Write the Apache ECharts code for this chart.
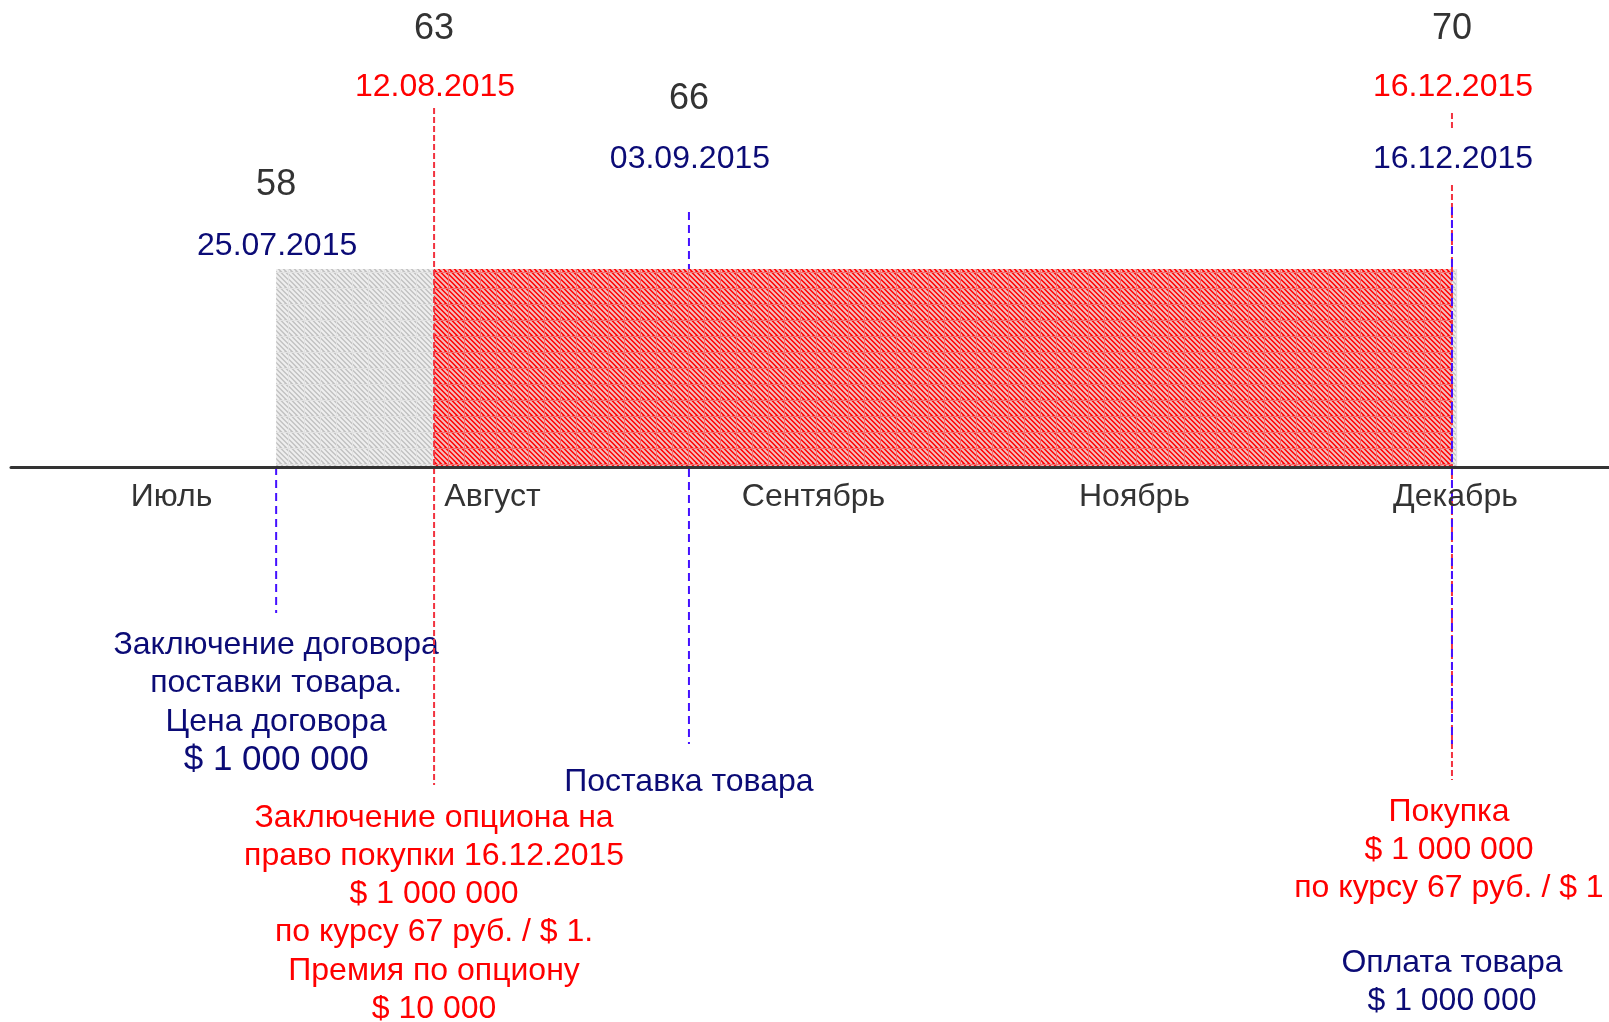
<!DOCTYPE html>
<html><head><meta charset="utf-8">
<script src="https://cdn.jsdelivr.net/npm/echarts@6/dist/echarts.min.js"></script>
<style>html,body{margin:0;padding:0;background:#fff}#c{width:1609px;height:1022px}</style>
</head><body><div id="c"></div>
<script>
// ---------- data ----------
const months = ['Июль', 'Август', 'Сентябрь', 'Ноябрь', 'Декабрь'];
const eventDates = ['25.07.2015', '12.08.2015', '03.09.2015', '16.12.2015'];
const eventRates = [58, 63, 66, 70];
const eventPos = [0.826, 1.318, 2.112, 4.489];      // position on the month scale
const contractPeriod = [0.826, 4.505];              // gray band
const optionPeriod = [1.318, 4.489];                // red band
const barHeight = 1;
const descContract = ['Заключение договора', 'поставки товара.', 'Цена договора', '$ 1 000 000'];
const descOption = ['Заключение опциона на', 'право покупки 16.12.2015', '$ 1 000 000', 'по курсу 67 руб. / $ 1.', 'Премия по опциону', '$ 10 000'];
const descDelivery = ['Поставка товара'];
const descPurchase = ['Покупка', '$ 1 000 000', 'по курсу 67 руб. / $ 1'];
const descPayment = ['Оплата товара', '$ 1 000 000'];

// ---------- styles ----------
const FONT = '"Liberation Sans", Arial, sans-serif';
const NAVY = '#0b0b76', RED = '#ff0000', DARK = '#333333';
const BLUE_LINE = '#4411ff', RED_LINE = '#f2333f';

function makeTile(base, stripe, seam) {
  const c = document.createElement('canvas');
  c.width = 16; c.height = 16;
  const g = c.getContext('2d');
  g.fillStyle = base; g.fillRect(0, 0, 16, 16);
  g.strokeStyle = stripe; g.lineWidth = 2;
  for (let k = -4; k < 8; k++) {
    g.beginPath(); g.moveTo(k * 5 + 1, 0); g.lineTo(k * 5 + 17, 16); g.stroke();
  }
  g.fillStyle = seam;
  g.fillRect(0, 0, 1, 16); g.fillRect(0, 0, 16, 1);
  return c;
}
const grayTile = makeTile('#c2c2c2', '#efefef', '#e2e2e2');
const redTile = makeTile('#ff0000', '#f3bdbd', '#f07070');

// layout of each event (pixels)
const layout = [
  { num: 185, dates: [[246, NAVY]], lines: [[BLUE_LINE, 467, 613]],
    blocks: [{ lines: descContract, y: 645, step: 38.5, color: NAVY, sizes: [32, 32, 32, 35] }] },
  { num: 29, dates: [[87, RED]], lines: [[RED_LINE, 108, 785]],
    blocks: [{ lines: descOption, y: 818, step: 38.2, color: RED }] },
  { num: 99, dates: [[159, NAVY]], lines: [[BLUE_LINE, 212, 269], [BLUE_LINE, 469, 744]],
    blocks: [{ lines: descDelivery, y: 782, step: 38, color: NAVY }] },
  { num: 29, dates: [[87, RED], [159, NAVY]], lines: [[RED_LINE, 113, 128], [RED_LINE, 185, 780], [BLUE_LINE, 207, 744]],
    blocks: [{ lines: descPurchase, y: 812, step: 38, color: RED, dx: -3 },
             { lines: descPayment, y: 963, step: 38, color: NAVY }] }
];

function txt(text, x, y, color, size) {
  return { type: 'text', style: { text: text, x: x, y: y, fill: color, fontSize: size, fontFamily: FONT, align: 'center', verticalAlign: 'middle' } };
}

const chart = echarts.init(document.getElementById('c'));
chart.setOption({
  backgroundColor: '#ffffff',
  animation: false,
  grid: { left: 11, top: 269, width: 1605, height: 198, outerBoundsMode: 'none', containLabel: false },
  xAxis: [
    { type: 'category', data: months, z: 10,
      axisLine: { show: true, lineStyle: { color: DARK, width: 3 } },
      axisTick: { show: false }, splitLine: { show: false },
      axisLabel: { color: DARK, fontSize: 32, fontFamily: FONT, margin: 14 } },
    { type: 'value', min: 0, max: 5, show: false }
  ],
  yAxis: { type: 'value', min: 0, max: barHeight, show: false },
  series: [
    { type: 'custom', xAxisIndex: 1, clip: false, z: 2,
      data: [[contractPeriod[0], contractPeriod[1], 0], [optionPeriod[0], optionPeriod[1], 1]],
      renderItem: function (params, api) {
        const p1 = api.coord([api.value(0), barHeight]);
        const p2 = api.coord([api.value(1), 0]);
        return { type: 'rect', shape: { x: p1[0], y: p1[1], width: p2[0] - p1[0], height: p2[1] - p1[1] },
          style: { fill: { image: api.value(2) === 0 ? grayTile : redTile, repeat: 'repeat' } } };
      } },
    { type: 'custom', xAxisIndex: 1, clip: false, z: 5,
      data: eventPos.map((p, i) => [p, i]),
      renderItem: function (params, api) {
        const i = api.value(1);
        const x = api.coord([api.value(0), 0])[0];
        const L = layout[i];
        const children = [];
        L.lines.forEach(l => children.push({ type: 'line', shape: { x1: x, y1: l[1], x2: x, y2: l[2] },
          style: { stroke: l[0], lineWidth: 2, lineDash: l[0] === RED_LINE ? [6, 3] : [8, 5] } }));
        children.push(txt(String(eventRates[i]), x, L.num, DARK, 36));
        L.dates.forEach(d => children.push(txt(eventDates[i], x + 1, d[0], d[1], 32)));
        L.blocks.forEach(b => b.lines.forEach((t, k) =>
          children.push(txt(t, x + (b.dx || 0), b.y + k * b.step, b.color, b.sizes ? b.sizes[k] : 32))));
        return { type: 'group', children: children };
      } }
  ]
});
</script></body></html>
